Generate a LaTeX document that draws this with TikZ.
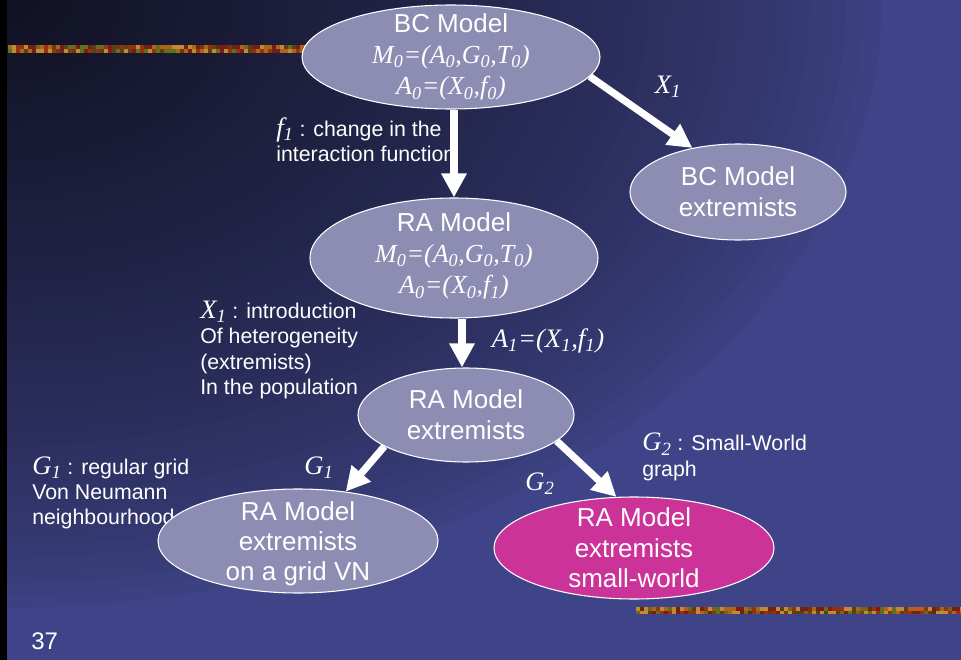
\documentclass[tikz,border=0pt]{standalone}
\usepackage{fontspec}
\setmainfont{Liberation Sans}
\newfontfamily\timesfam{Liberation Serif}
\newcommand\varfont{\timesfam\itshape}
\newcommand\ix[1]{\textsubscript{#1}}
\usetikzlibrary{shapes.geometric,arrows.meta}

\definecolor{bgdark}{RGB}{16,17,34}
\definecolor{bgblue}{RGB}{63,68,136}
\definecolor{nodefill}{RGB}{141,141,179}
\definecolor{swfill}{RGB}{204,51,153}
\definecolor{bar1}{RGB}{176,100,26}
\definecolor{bar2}{RGB}{150,50,15}
\definecolor{bar3}{RGB}{100,110,30}
\definecolor{bar4}{RGB}{190,140,50}
\definecolor{bar5}{RGB}{120,30,20}
\definecolor{bar6}{RGB}{95,62,22}

\begin{document}
\begin{tikzpicture}[x=0.75pt,y=-0.75pt,
  model/.style={ellipse, draw=white, line width=0.8pt, fill=nodefill, inner sep=0pt},
  modeltxt/.style={text=white, align=center, inner sep=0pt,
    font=\fontsize{19.5}{23.5}\selectfont},
  lbl/.style={text=white, align=left, inner sep=0pt, anchor=west,
    font=\fontsize{16}{19}\selectfont},
  varlbl/.style={text=white, inner sep=0pt, font=\fontsize{20}{24}\selectfont\varfont},
  bigarrow/.style={draw=white, line width=5.4pt, -{Triangle[width=18pt,length=18pt]}}]

\useasboundingbox (0,0) rectangle (961,660);

% slide background: dark corner at the top left fading into blue
\begin{scope}
  \clip (0,0) rectangle (961,660);
  \fill[bgblue] (0,0) rectangle (961,660);
  \foreach \s in {0.98,0.96,...,0.04}{
    \pgfmathsetmacro\p{100*pow(1-\s,0.7)}
    \fill[fill=bgdark!\p!bgblue] (0,0) ellipse [x radius=900*\s, y radius=620*\s];
  }
\end{scope}
\fill[black] (0,0) rectangle (7,660);

% textured rules
\pgfmathsetseed{42}
\foreach \i in {0,...,75}{
  \foreach \j in {0,1}{
    \pgfmathrandominteger{\k}{1}{6}
    \fill[fill=bar\k] (8+4*\i,45+4*\j) rectangle ++(4.4,4.4);
  }
}
\foreach \i in {0,...,81}{
  \foreach \j in {0,1}{
    \pgfmathrandominteger{\k}{1}{6}
    \fill[fill=bar\k] (636+4*\i,607+3.5*\j) rectangle ++(4.4,3.9);
  }
}

% side notes
\begin{scope}
  \clip (260,100) rectangle (453,175);
  \node[lbl] (fnote) at (276,140)
    {{\fontsize{20}{19}\selectfont\varfont f\ix{1}} : change in the\\ interaction function};
\end{scope}
\node[lbl] (xnote) at (200,350)
  {{\fontsize{20}{19}\selectfont\varfont X\ix{1}} : introduction\\
   Of heterogeneity\\ (extremists)\\ In the population};
\node[lbl] (gonenote) at (32,493)
  {{\fontsize{20}{19}\selectfont\varfont G\ix{1}} : regular grid\\ Von Neumann\\ neighbourhood};
\node[lbl] (gtwonote) at (642,457)
  {{\fontsize{20}{19}\selectfont\varfont G\ix{2}} : Small-World\\ graph};
\node[lbl, font=\fontsize{18}{20}\selectfont] (pagenum) at (31,641) {37};

% model ellipses
\node[model, minimum width=223.5pt, minimum height=78pt] (bc) at (451,57) {};
\node[model, minimum width=162pt, minimum height=72pt] (bcx) at (738,192) {};
\node[model, minimum width=216pt, minimum height=90pt] (ra) at (454,258) {};
\node[model, minimum width=162pt, minimum height=70.5pt] (rax) at (466,415) {};
\node[model, minimum width=210pt, minimum height=78pt] (grid) at (298,541) {};
\node[model, fill=swfill, minimum width=210pt, minimum height=76.5pt] (sw) at (634,548) {};

\node[modeltxt] (bctxt) at (bc)
  {BC Model\\ {\varfont M\ix{0}=(A\ix{0},G\ix{0},T\ix{0})}\\ {\varfont A\ix{0}=(X\ix{0},f\ix{0})}};
\node[modeltxt] (bcxtxt) at (bcx) {BC Model\\ extremists};
\node[modeltxt] (ratxt) at ([yshift=1.5pt]ra.center)
  {RA Model\\ {\varfont M\ix{0}=(A\ix{0},G\ix{0},T\ix{0})}\\ {\varfont A\ix{0}=(X\ix{0},f\ix{1})}};
\node[modeltxt] (raxtxt) at (rax) {RA Model\\ extremists};
\node[modeltxt, font=\fontsize{19.5}{22.5}\selectfont] (gridtxt) at ([yshift=-2pt]grid.center)
  {RA Model\\ extremists\\ on a grid VN};
\node[modeltxt, font=\fontsize{19.5}{23}\selectfont] (swtxt) at (sw) {RA Model\\ extremists\\ small-world};

% arrows
\draw[bigarrow] (bc.south -| ra.north) -- (ra.north);
\draw[bigarrow] (bc.-8.6) -- (bcx.136);
\draw[bigarrow] ([xshift=-3pt]ra.south -| rax.north) -- ([xshift=-3pt]rax.north);
\draw[bigarrow] (rax.201.7) -- (grid.46.8);
\draw[bigarrow] (rax.-16.2) -- (sw.109.8);

% arrow labels
\node[varlbl] (xlab) at (668,87) {X\ix{1}};
\node[varlbl] (alab) at (548,341) {A\ix{1}=(X\ix{1},f\ix{1})};
\node[varlbl] (gonelab) at (319,468) {G\ix{1}};
\node[varlbl] (gtwolab) at (540,484) {G\ix{2}};
\end{tikzpicture}
\end{document}
